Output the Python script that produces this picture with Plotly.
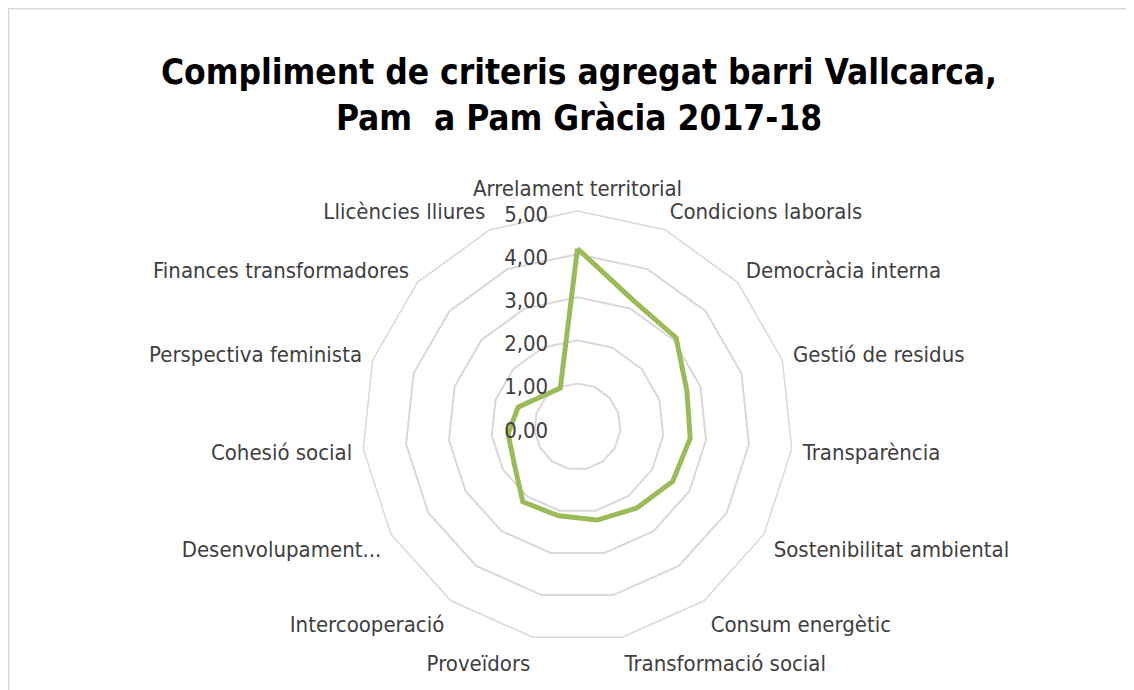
import plotly.graph_objects as go

categories = [
    "Arrelament territorial", "Condicions laborals", "Democràcia interna",
    "Gestió de residus", "Transparència", "Sostenibilitat ambiental",
    "Consum energètic", "Transformació social", "Proveïdors",
    "Intercooperació", "Desenvolupament...", "Cohesió social",
    "Perspectiva feminista", "Finances transformadores", "Llicències lliures",
]
values = [4.13, 3.20, 3.08, 2.67, 2.63, 2.55, 2.34, 2.22, 2.12, 2.16, 1.70, 1.62, 1.45, 1.07, 0.98]
radial_ticks = [0, 1, 2, 3, 4, 5]

FONT = "DejaVu Sans Condensed, Open Sans, sans-serif"

fig = go.Figure()
fig.add_trace(go.Scatterpolar(
    r=values + values[:1],
    theta=categories + categories[:1],
    mode="lines",
    line=dict(color="#9BBB59", width=5),
    hoverinfo="skip",
))

W, H = 1134, 690
cx, cy, R = 569.5, 418.5, 215.4
fig.update_layout(
    width=W, height=H,
    margin=dict(l=0, r=0, t=0, b=0),
    paper_bgcolor="white",
    plot_bgcolor="white",
    showlegend=False,
    separators=", ",
    title=dict(
        text="Compliment de criteris agregat barri Vallcarca,<br>Pam  a Pam Gràcia 2017-18",
        x=571 / W, xanchor="center",
        y=1 - 76 / H, yanchor="middle",
        font=dict(family=FONT, size=35, color="#000000", weight="bold"),
    ),
    font=dict(family=FONT, color="#404040"),
    polar=dict(
        domain=dict(x=[(cx - R) / W, (cx + R) / W], y=[(H - cy - R) / H, (H - cy + R) / H]),
        gridshape="linear",
        bgcolor="white",
        radialaxis=dict(
            range=[0, 5], tickvals=radial_ticks, tickformat=".2f",
            showline=False, gridcolor="#d9d9d9", gridwidth=1.5,
            ticks="outside", ticklen=9, tickcolor="rgba(0,0,0,0)",
            angle=90, side="counterclockwise",
            tickfont=dict(family=FONT, size=22, color="#404040"),
        ),
        angularaxis=dict(
            direction="clockwise", rotation=90,
            showgrid=False, showline=True, linecolor="#d9d9d9", linewidth=1.5,
            ticks="outside", ticklen=6, tickcolor="rgba(0,0,0,0)",
            tickfont=dict(family=FONT, size=22, color="#404040"),
        ),
    ),
    shapes=[dict(type="rect", xref="paper", yref="paper",
                 x0=0.5 / W, x1=1.05, y0=-0.05, y1=1 - 0.5 / H,
                 line=dict(color="#d9d9d9", width=2))],
)

fig.write_html("out.html")
